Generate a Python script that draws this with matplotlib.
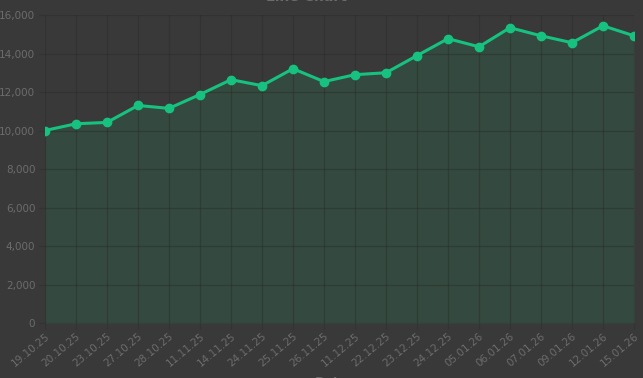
import matplotlib.pyplot as plt
from matplotlib.ticker import FuncFormatter

# data
dates = [
    "19.10.25", "20.10.25", "23.10.25", "27.10.25", "28.10.25",
    "11.11.25", "14.11.25", "24.11.25", "25.11.25", "26.11.25",
    "11.12.25", "22.12.25", "23.12.25", "24.12.25", "05.01.26",
    "06.01.26", "07.01.26", "09.01.26", "12.01.26", "15.01.26",
]
values = [
    10000, 10350, 10420, 11300, 11150,
    11870, 12640, 12330, 13210, 12540,
    12900, 13000, 13890, 14770, 14350,
    15340, 14920, 14560, 15440, 14920,
]
y_ticks = [0, 2000, 4000, 6000, 8000, 10000, 12000, 14000, 16000]

bg = "#393939"
line_color = "#17c17f"
text_color = "#6c6c6c"
grid_color = "#2a2a2a"

fig = plt.figure(figsize=(6.43, 3.78), dpi=100, facecolor=bg)
ax = fig.add_axes([45 / 643, 55 / 378, 589 / 643, 308 / 378])
ax.set_facecolor(bg)

x = list(range(len(values)))
ax.fill_between(x, values, 0, color="#34493f", linewidth=0, zorder=1)
ax.plot(x, values, color=line_color, linewidth=2.2, marker="o", markersize=6,
        zorder=3)

ax.set_xlim(0, len(values) - 1)
ax.set_ylim(0, 16000)
ax.set_yticks(y_ticks)
ax.yaxis.set_major_formatter(FuncFormatter(lambda v, p: f"{int(v):,}"))
ax.set_xticks(x)
ax.set_xticklabels(dates, rotation=40, ha="right", rotation_mode="anchor")

ax.grid(True, color=grid_color, linewidth=0.9, alpha=0.45, zorder=2)
ax.set_axisbelow(False)
for s in ax.spines.values():
    s.set_visible(False)
ax.tick_params(colors=text_color, labelsize=7.5, length=4, width=0.8)
ax.tick_params(axis="x", color="#333333", pad=2)
ax.tick_params(axis="y", color="#333333", pad=3)

# title and axis title are cut off at the edges in the reference
fig.text(306 / 643, 1 - 4 / 378, "Line Chart", color=text_color, fontsize=10,
         fontweight="bold", ha="center", va="bottom")
fig.text(331 / 643, 2 / 378, "Date", color=text_color, fontsize=9,
         fontweight="bold", ha="center", va="top")

fig.savefig("out.png", dpi=100, facecolor=bg)
